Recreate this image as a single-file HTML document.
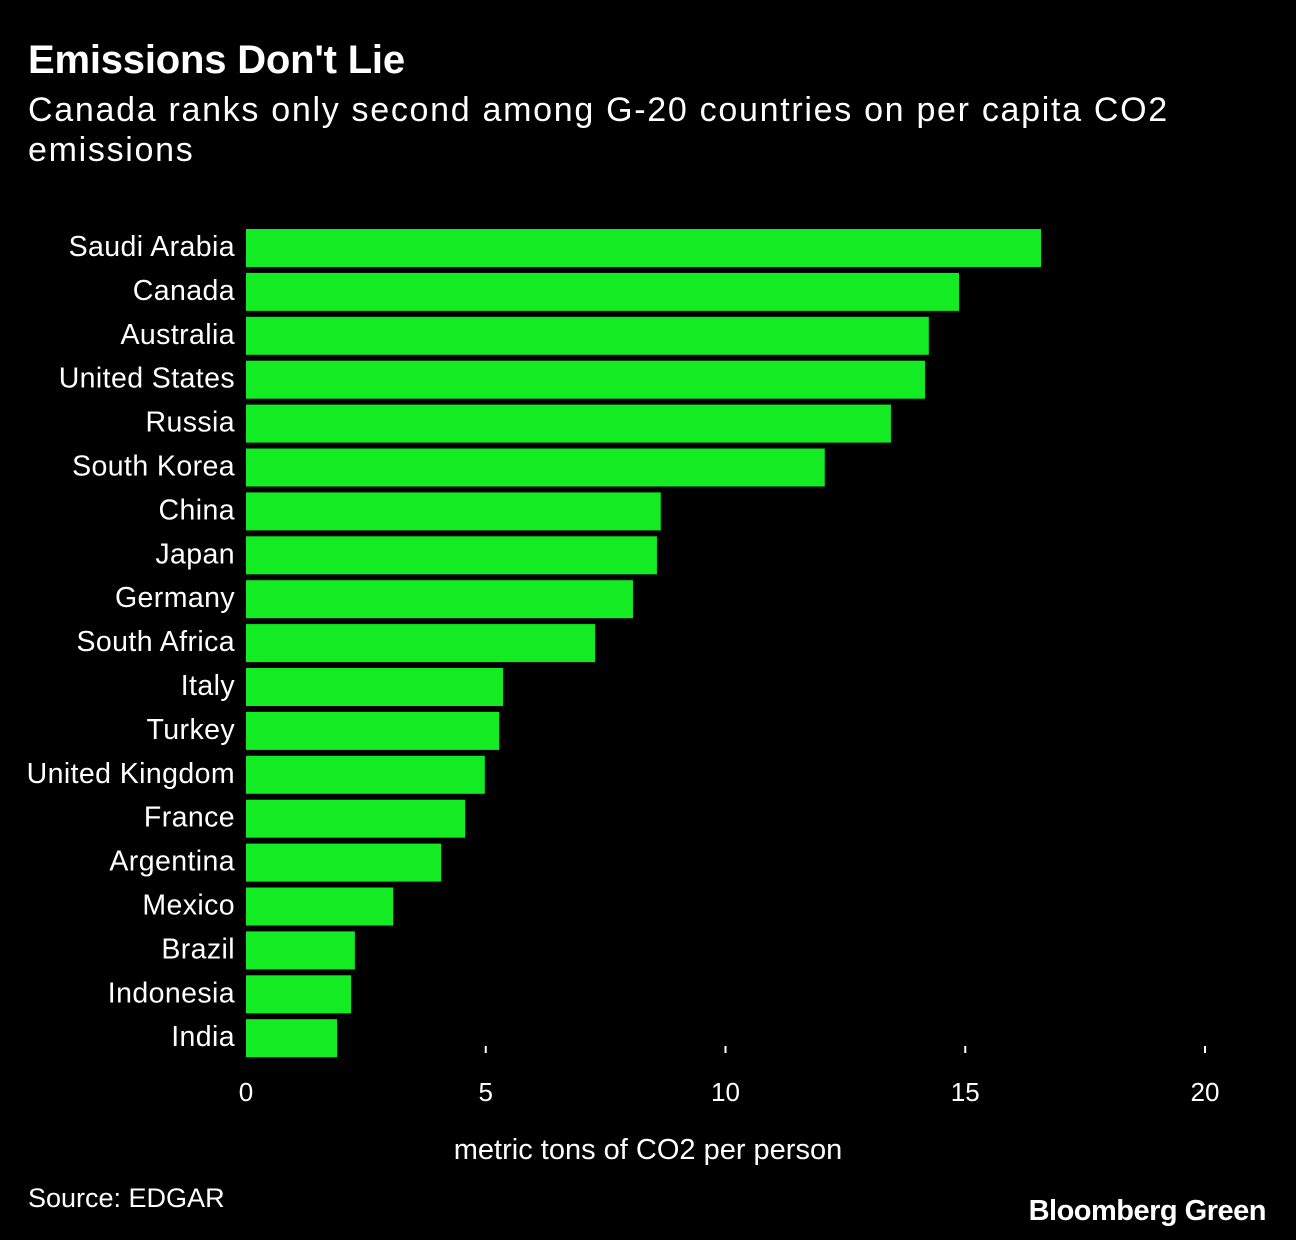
<!DOCTYPE html>
<html><head><meta charset="utf-8"><style>
body{margin:0;background:#000;width:1296px;height:1240px;overflow:hidden;font-family:"Liberation Sans",sans-serif;color:#fff;position:relative}
.t{position:absolute;left:28px;top:38px;font-size:40px;font-weight:bold;letter-spacing:-0.2px}
.s{position:absolute;left:28px;top:90px;font-size:34px;line-height:40px;width:1260px;letter-spacing:1.7px}
.src{position:absolute;left:28px;top:1183px;font-size:27px}
.logo{position:absolute;right:30px;top:1195px;font-size:29px;font-weight:bold;letter-spacing:-0.5px}
svg{position:absolute;left:0;top:0}
</style></head><body>
<div class="t">Emissions Don't Lie</div>
<div class="s">Canada ranks only second among G-20 countries on per capita CO2<br>emissions</div>
<svg id="c" width="1296" height="1240"></svg>
<div class="src">Source: EDGAR</div>
<div class="logo">Bloomberg Green</div>
<script>
const countries=["Saudi Arabia","Canada","Australia","United States","Russia","South Korea","China","Japan","Germany","South Africa","Italy","Turkey","United Kingdom","France","Argentina","Mexico","Brazil","Indonesia","India"];
const values=[16.58,14.87,14.24,14.16,13.45,12.07,8.65,8.57,8.07,7.28,5.36,5.28,4.98,4.57,4.07,3.07,2.27,2.19,1.90];
const ticks=[0,5,10,15,20];
const NS="http://www.w3.org/2000/svg";
const svg=document.getElementById('c');
const x=v=>246+v*(1205-246)/20;
const y=i=>229+i*43.9;
function mk(t,a){const e=document.createElementNS(NS,t);for(const k in a)e.setAttribute(k,a[k]);svg.appendChild(e);return e;}
countries.forEach((c,i)=>{
 const r=mk('rect',{x:x(0),y:y(i),width:x(values[i])-x(0),height:38,fill:'#13eb22'});
 
 
 const t=mk('text',{x:235,y:y(i)+27,'text-anchor':'end',fill:'#fff','font-size':28.5,'letter-spacing':0.4});
 t.textContent=c;
 
 
});
ticks.forEach(v=>{
 if(v>0){const l=mk('line',{x1:x(v),x2:x(v),y1:1046,y2:1053,stroke:'#fff','stroke-width':2});
 
 }
 const t=mk('text',{x:x(v),y:1101,'text-anchor':'middle',fill:'#fff','font-size':26});
 t.textContent=v;
 
 
});
const at=mk('text',{x:648,y:1159,'text-anchor':'middle',fill:'#fff','font-size':29});
at.textContent='metric tons of CO2 per person';


</script>
</body></html>
